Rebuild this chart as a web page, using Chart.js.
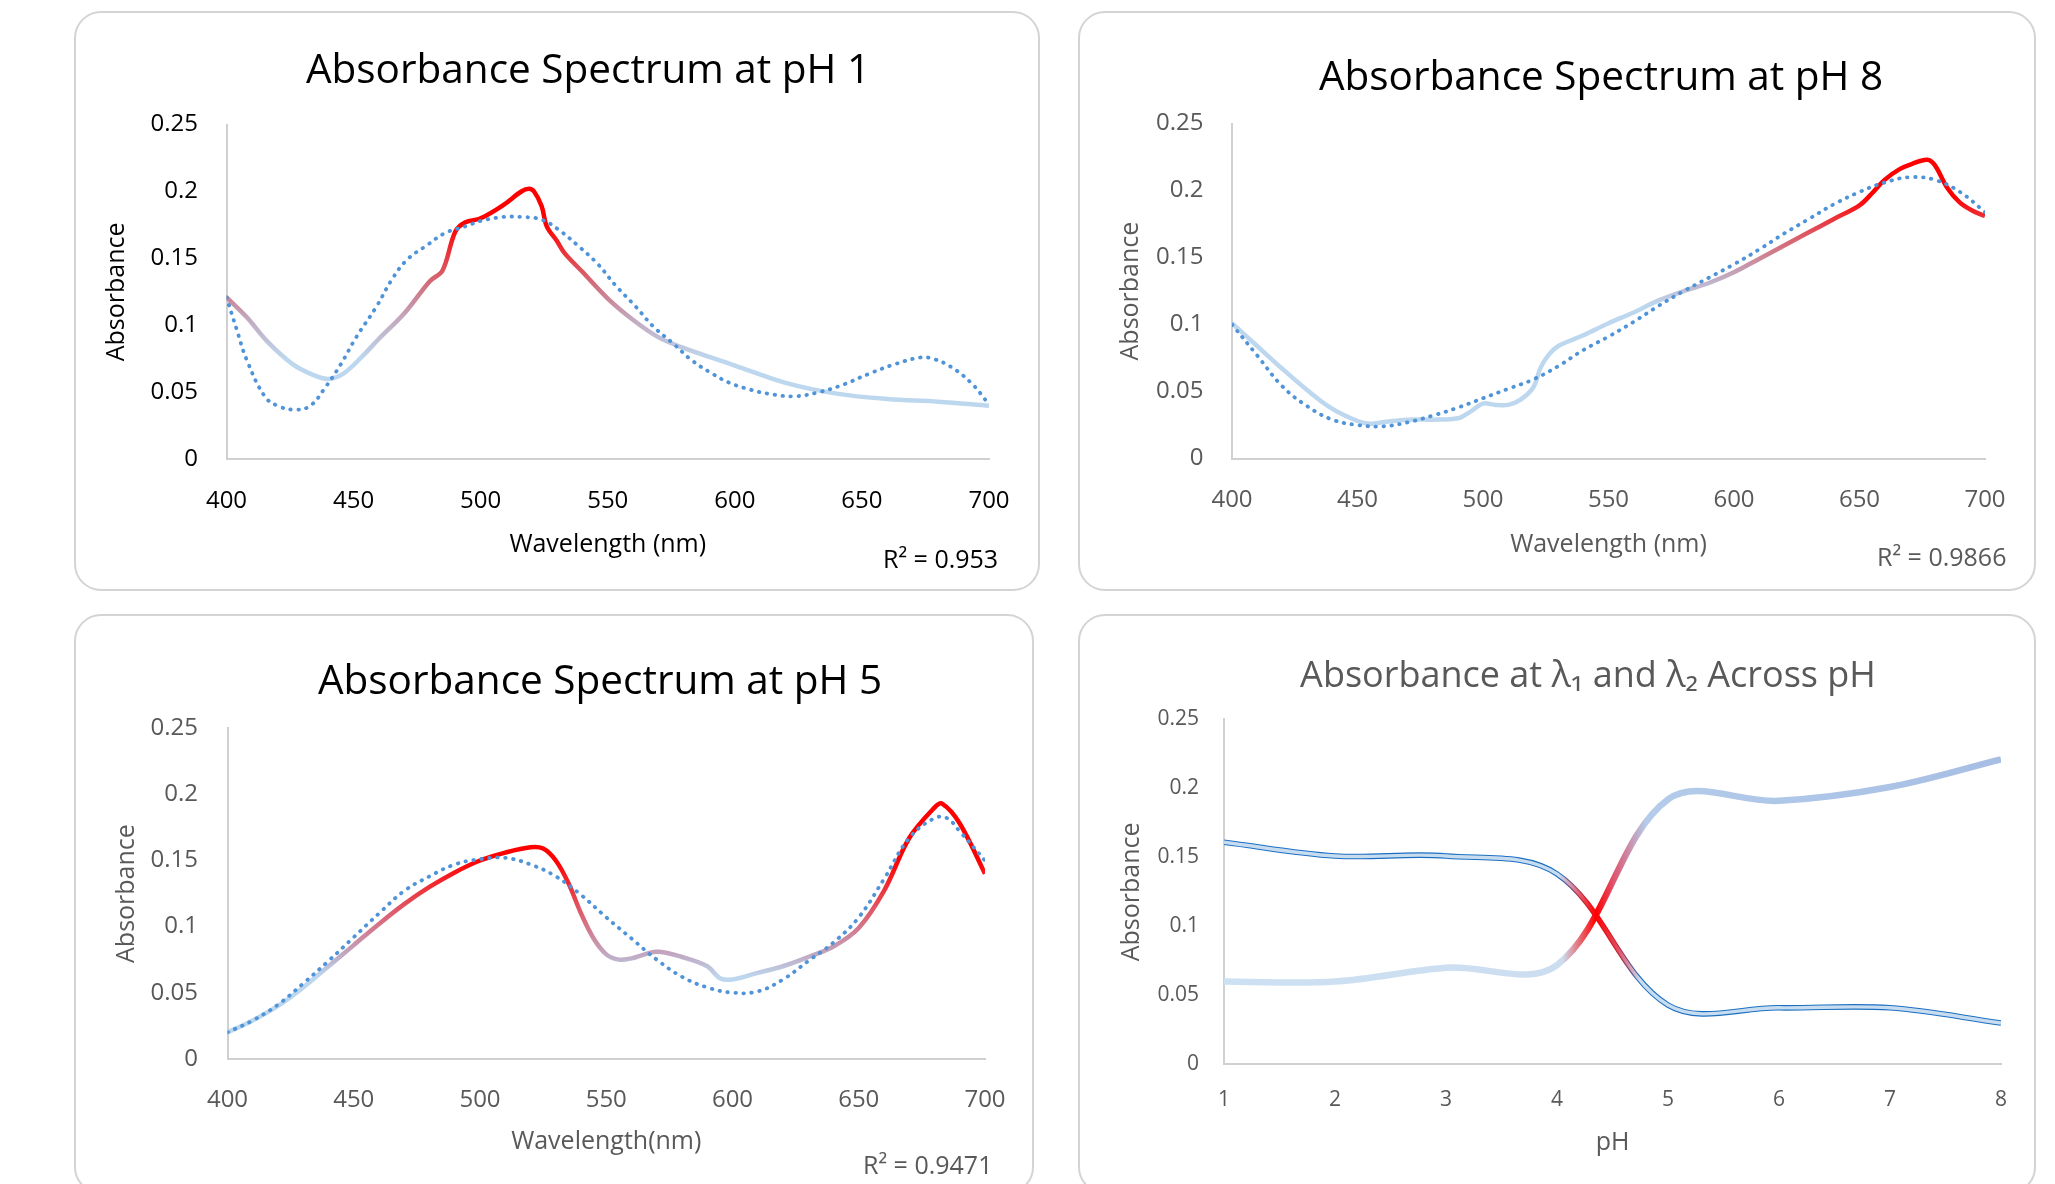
<!DOCTYPE html>
<html lang="en">
<head>
<meta charset="UTF-8">
<title>Absorbance Spectra</title>
<script src="https://cdn.jsdelivr.net/npm/chart.js"></script>
<style>
  body {
    margin: 0;
    width: 2055px;
    height: 1184px;
    overflow: hidden;
    position: relative;
    background: #fff;
  }
  .card {
    position: absolute;
    box-sizing: border-box;
    border: 2px solid #d4d4d4;
    border-radius: 27px;
  }
  .card canvas {
    position: absolute;
    left: -2px;
    top: -2px;
  }
</style>
</head>
<body>
<div class="card" style="left:74px; top:11px; width:966px; height:580px;"><canvas id="ph1" width="966" height="580"></canvas></div>
<div class="card" style="left:1078px; top:11px; width:958px; height:580px;"><canvas id="ph8" width="958" height="580"></canvas></div>
<div class="card" style="left:74px; top:614px; width:960px; height:580px;"><canvas id="ph5" width="960" height="580"></canvas></div>
<div class="card" style="left:1078px; top:614px; width:958px; height:580px;"><canvas id="across" width="958" height="580"></canvas></div>
<script>
// tick labels
const wavelengthTicks = ['400', '450', '500', '550', '600', '650', '700'];
const absTicks = ['0', '0.05', '0.1', '0.15', '0.2', '0.25'];
const phTicks = ['1', '2', '3', '4', '5', '6', '7', '8'];

// pH 1 spectrum + trend
const ph1Wavelength = [400, 408, 416, 426, 434, 440, 446, 453, 460, 470, 480, 485, 490, 494, 500, 509, 516, 519, 521, 524, 526, 530, 533, 540, 550, 560, 570, 580, 600, 620, 640, 660, 680, 700];
const ph1Absorbance = [0.121, 0.106, 0.088, 0.071, 0.063, 0.060, 0.064, 0.076, 0.090, 0.109, 0.133, 0.141, 0.170, 0.177, 0.180, 0.190, 0.200, 0.202, 0.200, 0.189, 0.174, 0.163, 0.154, 0.140, 0.120, 0.104, 0.091, 0.083, 0.070, 0.057, 0.049, 0.045, 0.043, 0.040];
const ph1TrendWavelength = [400, 404, 408, 415, 420, 427, 433, 439, 445, 451, 459, 465, 471, 479, 486, 494, 500, 509, 516, 524, 531, 538, 546, 553, 561, 568, 576, 583, 591, 598, 606, 613, 623, 633, 643, 653, 663, 673, 678, 685, 693, 700];
const ph1Trend = [0.121, 0.097, 0.074, 0.047, 0.040, 0.037, 0.040, 0.054, 0.071, 0.091, 0.114, 0.134, 0.149, 0.160, 0.169, 0.174, 0.178, 0.181, 0.181, 0.179, 0.171, 0.160, 0.146, 0.130, 0.114, 0.099, 0.086, 0.074, 0.064, 0.057, 0.052, 0.049, 0.047, 0.050, 0.056, 0.064, 0.071, 0.076, 0.075, 0.069, 0.057, 0.041];
const ph1R2 = 'R\u00B2 = 0.953';

// pH 8 spectrum + trend
const ph8Wavelength = [400, 410, 420, 430, 440, 450, 455, 460, 470, 480, 490, 495, 500, 505, 510, 515, 520, 523, 526, 530, 540, 550, 560, 570, 580, 590, 600, 610, 620, 630, 640, 650, 655, 660, 666, 671, 677, 680, 685, 690, 695, 700];
const ph8Absorbance = [0.101, 0.084, 0.067, 0.051, 0.037, 0.028, 0.026, 0.027, 0.029, 0.029, 0.030, 0.035, 0.041, 0.040, 0.040, 0.044, 0.053, 0.068, 0.077, 0.084, 0.092, 0.101, 0.109, 0.118, 0.125, 0.131, 0.139, 0.149, 0.159, 0.169, 0.179, 0.189, 0.198, 0.208, 0.216, 0.220, 0.223, 0.219, 0.202, 0.191, 0.185, 0.181];
const ph8TrendWavelength = [400, 410, 420, 430, 440, 450, 460, 470, 480, 490, 500, 510, 520, 530, 540, 550, 560, 570, 580, 590, 600, 610, 620, 630, 640, 650, 660, 670, 680, 690, 700];
const ph8Trend = [0.100, 0.077, 0.054, 0.039, 0.029, 0.025, 0.024, 0.027, 0.032, 0.038, 0.045, 0.052, 0.059, 0.069, 0.081, 0.091, 0.102, 0.114, 0.125, 0.135, 0.145, 0.156, 0.168, 0.179, 0.190, 0.199, 0.206, 0.210, 0.208, 0.199, 0.184];
const ph8R2 = 'R\u00B2 = 0.9866';

// pH 5 spectrum + trend
const ph5Wavelength = [400, 410, 420, 430, 440, 450, 460, 470, 480, 490, 500, 510, 520, 525, 530, 535, 540, 545, 550, 555, 560, 570, 580, 590, 595, 600, 610, 620, 630, 640, 650, 660, 670, 680, 683, 690, 700];
const ph5Absorbance = [0.020, 0.029, 0.040, 0.054, 0.070, 0.086, 0.102, 0.117, 0.130, 0.141, 0.150, 0.156, 0.160, 0.159, 0.150, 0.133, 0.110, 0.091, 0.079, 0.075, 0.076, 0.081, 0.077, 0.070, 0.061, 0.060, 0.065, 0.070, 0.077, 0.085, 0.099, 0.127, 0.167, 0.190, 0.193, 0.178, 0.140];
const ph5TrendWavelength = [400, 410, 420, 430, 440, 450, 460, 470, 480, 490, 500, 510, 520, 530, 540, 550, 560, 570, 580, 590, 600, 610, 620, 630, 640, 650, 660, 670, 680, 685, 690, 700];
const ph5Trend = [0.020, 0.029, 0.041, 0.057, 0.074, 0.092, 0.110, 0.127, 0.138, 0.147, 0.151, 0.152, 0.147, 0.138, 0.124, 0.107, 0.091, 0.075, 0.062, 0.054, 0.050, 0.051, 0.060, 0.074, 0.088, 0.107, 0.136, 0.167, 0.182, 0.182, 0.172, 0.150];
const ph5R2 = 'R\u00B2 = 0.9471';

// absorbance at the two wavelengths across pH
const phValues = [1, 2, 3, 4, 5, 6, 7, 8];
const lambda1Abs = [0.161, 0.151, 0.151, 0.138, 0.043, 0.041, 0.041, 0.030];
const lambda2Abs = [0.060, 0.060, 0.070, 0.072, 0.192, 0.191, 0.201, 0.221];

Chart.defaults.font.family = '"Open Sans", "Noto Sans", sans-serif';

const pts = (xs, ys) => xs.map((x, i) => ({ x: x, y: ys[i] }));

// gradient along the value axis (light blue low, red high)
function valueGradient(stops) {
  return (ctx) => {
    const chart = ctx.chart;
    if (!chart.chartArea) return stops[0][1];
    const y = chart.scales.y;
    const lo = stops[0][0], hi = stops[stops.length - 1][0];
    const g = chart.ctx.createLinearGradient(0, y.getPixelForValue(lo), 0, y.getPixelForValue(hi));
    stops.forEach(s => g.addColorStop((s[0] - lo) / (hi - lo), s[1]));
    return g;
  };
}

// gradient along pH (red where the lines cross)
function phGradient(stops) {
  return (ctx) => {
    const chart = ctx.chart;
    if (!chart.chartArea) return stops[0][1];
    const x = chart.scales.x;
    const lo = stops[0][0], hi = stops[stops.length - 1][0];
    const g = chart.ctx.createLinearGradient(x.getPixelForValue(lo), 0, x.getPixelForValue(hi), 0);
    stops.forEach(s => g.addColorStop((s[0] - lo) / (hi - lo), s[1]));
    return g;
  };
}

// moves the title centre and writes the R² note
const cardText = {
  id: 'cardText',
  afterLayout(chart, args, opts) {
    const t = chart.titleBlock;
    if (t && opts.titleX != null) {
      const w = t.right - t.left;
      t.left = opts.titleX - w / 2;
      t.right = opts.titleX + w / 2;
    }
  },
  afterDraw(chart, args, opts) {
    if (!opts.note) return;
    const c = chart.ctx;
    c.save();
    c.font = '25px "Open Sans", sans-serif';
    c.fillStyle = opts.color;
    c.textAlign = 'left';
    c.textBaseline = 'alphabetic';
    c.fillText(opts.note, opts.noteX, opts.noteY);
    c.restore();
  }
};

function chartOptions(c) {
  return {
    responsive: false,
    devicePixelRatio: 1,
    animation: false,
    events: [],
    layout: { padding: { left: 0, right: c.right, top: 0, bottom: 0 } },
    elements: { point: { radius: 0 }, line: { fill: false } },
    plugins: {
      legend: { display: false },
      tooltip: { enabled: false },
      title: {
        display: true,
        text: c.title,
        color: c.titleColor,
        font: { size: c.titleSize, weight: 'normal', lineHeight: 1.2 },
        padding: { top: c.titleTop, bottom: c.titleBottom }
      },
      cardText: { titleX: c.titleX, note: c.note, noteX: c.noteX, noteY: c.noteY, color: c.ink }
    },
    scales: {
      x: {
        type: 'linear',
        min: c.xMin, max: c.xMax,
        grid: { display: false, drawTicks: false },
        border: { display: true, color: '#d0d0d0', width: 2 },
        ticks: {
          stepSize: c.xStep, padding: c.xTickPad, color: c.ink, maxRotation: 0, autoSkip: false,
          font: { size: c.tickSize },
          callback: (v, i) => c.xLabels[i]
        },
        title: { display: true, text: c.xTitle, color: c.ink, font: { size: 25 }, padding: { top: 0, bottom: c.xTitlePad } },
        afterFit: s => { s.height = c.xHeight; }
      },
      y: {
        min: 0, max: 0.25,
        grid: { display: false, drawTicks: false },
        border: { display: true, color: '#d0d0d0', width: 2 },
        ticks: {
          stepSize: 0.05, padding: c.yTickPad, color: c.ink,
          font: { size: c.tickSize },
          callback: (v, i) => absTicks[i]
        },
        title: { display: true, text: 'Absorbance', color: c.ink, font: { size: 25 }, padding: { top: c.yTitlePad, bottom: 0 } },
        afterFit: s => { s.width = c.yWidth; }
      }
    }
  };
}

function spectrum(id, solidX, solidY, trendX, trendY, stops, c) {
  return new Chart(document.getElementById(id), {
    type: 'line',
    data: {
      datasets: [
        {
          data: pts(trendX, trendY),
          borderColor: '#4f93d8',
          borderWidth: 3.8,
          borderDash: [0.5, 7.5],
          borderCapStyle: 'round',
          tension: 0.4
        },
        {
          data: pts(solidX, solidY),
          borderColor: valueGradient(stops),
          borderWidth: 4.5,
          borderJoinStyle: 'round',
          tension: 0.35
        }
      ]
    },
    options: chartOptions(Object.assign({
      xMin: 400, xMax: 700, xStep: 50, xLabels: wavelengthTicks, tickSize: 24, titleSize: 40.5, titleColor: '#000'
    }, c)),
    plugins: [cardText]
  });
}

spectrum('ph1', ph1Wavelength, ph1Absorbance, ph1TrendWavelength, ph1Trend,
  [[0.075, '#bdd7ee'], [0.105, '#c3a8be'], [0.13, '#d0707e'], [0.175, '#ff0000']],
  {
    title: 'Absorbance Spectrum at pH 1', titleTop: 36, titleBottom: 29, titleX: 514,
    right: 51, yWidth: 152.5, yTitlePad: 28, yTickPad: 28.5,
    xHeight: 131.8, xTickPad: 27.5, xTitle: 'Wavelength (nm)', xTitlePad: 31.5,
    ink: '#000', note: ph1R2, noteX: 809, noteY: 557
  });

spectrum('ph8', ph8Wavelength, ph8Absorbance, ph8TrendWavelength, ph8Trend,
  [[0.115, '#bdd7ee'], [0.14, '#c3a0b5'], [0.165, '#d9606c'], [0.195, '#ff0000']],
  {
    title: 'Absorbance Spectrum at pH 8', titleTop: 43, titleBottom: 21, titleX: 523,
    right: 51, yWidth: 154, yTitlePad: 38, yTickPad: 28.5,
    xHeight: 132.5, xTickPad: 27.5, xTitle: 'Wavelength (nm)', xTitlePad: 31.5,
    ink: '#595959', note: ph8R2, noteX: 799, noteY: 555
  });

spectrum('ph5', ph5Wavelength, ph5Absorbance, ph5TrendWavelength, ph5Trend,
  [[0.062, '#bdd7ee'], [0.078, '#c0aac4'], [0.095, '#cf8297'], [0.15, '#ff0000']],
  {
    title: 'Absorbance Spectrum at pH 5', titleTop: 44, titleBottom: 21.7, titleX: 526,
    right: 49, yWidth: 153.5, yTitlePad: 37.4, yTickPad: 29.5,
    xHeight: 135.2, xTickPad: 27, xTitle: 'Wavelength(nm)', xTitlePad: 37,
    ink: '#595959', note: ph5R2, noteX: 789, noteY: 560
  });

new Chart(document.getElementById('across'), {
  type: 'line',
  data: {
    datasets: [
      {
        data: pts(phValues, lambda1Abs),
        borderColor: phGradient([[1, '#c8dcf0'], [4.02, '#c8dcf0'], [4.2, '#e06070'], [4.35, '#ff0000'], [4.55, '#e05060'], [4.75, '#c8dcf0'], [8, '#c8dcf0']]),
        borderWidth: 3.4,
        tension: 0.35
      },
      {
        data: pts(phValues, lambda1Abs),
        borderColor: phGradient([[1, '#1a6fc2'], [4.02, '#1a6fc2'], [4.2, '#b03050'], [4.35, '#ff0000'], [4.55, '#c02840'], [4.75, '#1a6fc2'], [8, '#1a6fc2']]),
        borderWidth: 5.6,
        tension: 0.35
      },
      {
        data: pts(phValues, lambda2Abs),
        borderColor: phGradient([[1, '#cde1f3'], [4.05, '#ccddf0'], [4.35, '#ff0000'], [4.5, '#e0506a'], [4.8, '#b4ccea'], [8, '#a6bee3']]),
        borderWidth: 6.5,
        tension: 0.35
      }
    ]
  },
  options: chartOptions({
    title: 'Absorbance at \u03BB\u2081 and \u03BB\u2082 Across pH', titleSize: 36, titleColor: '#595959',
    titleTop: 41, titleBottom: 21.2, titleX: 510,
    right: 35, yWidth: 146, yTitlePad: 39.3, yTickPad: 25, tickSize: 21,
    xMin: 1, xMax: 8, xStep: 1, xLabels: phTicks,
    xHeight: 129.6, xTickPad: 23, xTitle: 'pH', xTitlePad: 36,
    ink: '#595959'
  }),
  plugins: [cardText]
});
</script>
</body>
</html>
